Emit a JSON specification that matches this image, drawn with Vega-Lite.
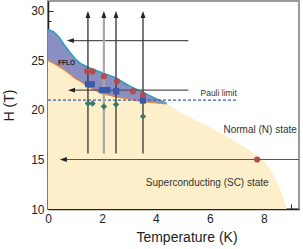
{
  "$schema": "https://vega.github.io/schema/vega-lite/v6.json",
  "width": 251,
  "height": 208,
  "autosize": "none",
  "padding": {"left": 48, "top": 1, "right": 4, "bottom": 40},
  "config": {
    "view": {"stroke": "#9a9a9a", "strokeWidth": 2},
    "font": "Liberation Sans",
    "axis": {"grid": false, "domainColor": "#222", "domainWidth": 1.5, "tickColor": "#222", "tickWidth": 1, "labelColor": "#222", "labelFontSize": 12, "titleColor": "#222", "titleFontSize": 14, "titleFontWeight": "normal", "labelOverlap": false, "labelFlush": false}
  },
  "resolve": {"scale": {"color": "independent", "shape": "independent", "strokeWidth": "independent", "size": "independent"}},
  "datasets": {
    "sc": [
      {"T": 0, "H": 25.0}, {"T": 0.2, "H": 24.72}, {"T": 0.4, "H": 24.4}, {"T": 0.6, "H": 24.05},
      {"T": 0.8, "H": 23.65}, {"T": 1.0, "H": 23.2}, {"T": 1.2, "H": 22.9}, {"T": 1.5, "H": 22.35},
      {"T": 2.0, "H": 21.65}, {"T": 2.5, "H": 21.35}, {"T": 3.0, "H": 21.1}, {"T": 3.5, "H": 20.85},
      {"T": 4.0, "H": 20.7}, {"T": 4.4, "H": 20.62}, {"T": 5.0, "H": 19.6}, {"T": 5.9, "H": 18.4},
      {"T": 6.4, "H": 17.65}, {"T": 6.9, "H": 16.9}, {"T": 7.4, "H": 16.05}, {"T": 7.95, "H": 15.0},
      {"T": 8.25, "H": 14.0}, {"T": 8.5, "H": 12.6}, {"T": 8.7, "H": 11.3}, {"T": 8.85, "H": 10.0}
    ],
    "fflo": [
      {"T": 0, "H": 28.1, "H2": 25.0}, {"T": 0.2, "H": 27.9, "H2": 24.72}, {"T": 0.4, "H": 27.4, "H2": 24.4},
      {"T": 0.6, "H": 26.6, "H2": 24.05}, {"T": 0.8, "H": 25.85, "H2": 23.65}, {"T": 1.0, "H": 25.2, "H2": 23.2},
      {"T": 1.2, "H": 24.7, "H2": 22.9}, {"T": 1.5, "H": 24.3, "H2": 22.35}, {"T": 2.0, "H": 23.75, "H2": 21.65},
      {"T": 2.5, "H": 23.25, "H2": 21.35}, {"T": 3.0, "H": 22.45, "H2": 21.1}, {"T": 3.5, "H": 21.8, "H2": 20.85},
      {"T": 4.0, "H": 21.15, "H2": 20.7}, {"T": 4.4, "H": 20.66, "H2": 20.62}
    ],
    "vert": [
      {"T": 1.48, "H": 15.6, "H2": 29.4, "kind": "dark"},
      {"T": 2.07, "H": 15.6, "H2": 29.4, "kind": "light"},
      {"T": 2.52, "H": 15.6, "H2": 29.4, "kind": "dark"},
      {"T": 3.52, "H": 15.6, "H2": 29.4, "kind": "dark"}
    ],
    "horiz": [
      {"T": 5.2, "T2": 0.9, "H": 27.0},
      {"T": 5.2, "T2": 0.95, "H": 22.0},
      {"T": 9.3, "T2": 0.65, "H": 15.0}
    ],
    "heads": [
      {"T": 1.48, "H": 30.0, "dir": "up"}, {"T": 2.07, "H": 30.0, "dir": "up"},
      {"T": 2.52, "H": 30.0, "dir": "up"}, {"T": 3.52, "H": 30.0, "dir": "up"},
      {"T": 0.7, "H": 27.0, "dir": "left"}, {"T": 0.74, "H": 22.0, "dir": "left"},
      {"T": 0.44, "H": 15.0, "dir": "left"}
    ],
    "pauli": [{"T": 0, "T2": 7.0, "H": 21.0}],
    "pts": [
      {"T": 1.45, "H": 23.9, "series": "red"}, {"T": 1.65, "H": 23.9, "series": "red"},
      {"T": 2.07, "H": 23.4, "series": "red"}, {"T": 2.55, "H": 22.9, "series": "red"},
      {"T": 3.15, "H": 21.9, "series": "red"}, {"T": 3.52, "H": 21.5, "series": "red"},
      {"T": 7.75, "H": 15.0, "series": "red"},
      {"T": 1.48, "H": 22.6, "series": "blue"}, {"T": 1.62, "H": 22.6, "series": "blue"},
      {"T": 2.0, "H": 22.0, "series": "blue"}, {"T": 2.2, "H": 22.0, "series": "blue"},
      {"T": 2.53, "H": 21.9, "series": "blue"}, {"T": 3.52, "H": 20.95, "series": "blue"},
      {"T": 1.48, "H": 20.65, "series": "green"}, {"T": 1.65, "H": 20.65, "series": "green"},
      {"T": 2.07, "H": 20.35, "series": "green"}, {"T": 2.52, "H": 20.55, "series": "green"},
      {"T": 3.52, "H": 19.35, "series": "green"}
    ],
    "labels": [
      {"T": 0.37, "H": 24.7, "text": "FFLO"},
      {"T": 5.65, "H": 21.7, "text": "Pauli limit"},
      {"T": 9.22, "H": 18.0, "text": "Normal (N) state"},
      {"T": 5.9, "H": 12.6, "text": "Superconducting (SC) state"}
    ]
  },
  "encoding": {
    "x": {"field": "T", "type": "quantitative", "scale": {"domain": [0, 9.3], "nice": false, "zero": false},
      "axis": {"title": "Temperature (K)", "format": "d",
        "values": [0,0.25,0.5,0.75,1,1.25,1.5,1.75,2,2.25,2.5,2.75,3,3.25,3.5,3.75,4,4.25,4.5,4.75,5,5.25,5.5,5.75,6,6.25,6.5,6.75,7,7.25,7.5,7.75,8,8.25,8.5,8.75,9,9.25],
        "labelExpr": "datum.value % 2 == 0 ? datum.label : ''",
        "tickSize": {"condition": {"test": "datum.value % 1 == 0", "value": -5}, "value": -2.5},
        "labelPadding": 9,
        "titleX": 138.5, "titleY": 32, "titleBaseline": "alphabetic", "titleAnchor": "middle", "titleAlign": "center"}},
    "y": {"field": "H", "type": "quantitative", "scale": {"domain": [10, 31], "nice": false, "zero": false},
      "axis": {"title": "H (T)", "format": "d",
        "values": [10,11,12,13,14,15,16,17,18,19,20,21,22,23,24,25,26,27,28,29,30],
        "labelExpr": "datum.value % 5 == 0 ? datum.label : ''",
        "tickSize": {"condition": {"test": "datum.value % 5 == 0", "value": -5}, "value": -3},
        "labelPadding": 9,
        "titleX": -35, "titleBaseline": "alphabetic"}}
  },
  "layer": [
    {"data": {"name": "sc"}, "mark": {"type": "area", "color": "#fdefca", "opacity": 1}, "encoding": {"y2": {"datum": 10}}},
    {"data": {"name": "fflo"}, "mark": {"type": "area", "color": "#8b8ec2", "opacity": 1}, "encoding": {"y2": {"field": "H2"}}},
    {"data": {"name": "fflo"}, "mark": {"type": "line", "color": "#2b9dbf", "strokeWidth": 1.5}, "encoding": {}},
    {"data": {"name": "sc"}, "transform": [{"filter": "datum.T <= 4.4"}], "mark": {"type": "line", "color": "#e5843c", "strokeWidth": 1.2}, "encoding": {}},
    {"data": {"name": "pauli"}, "mark": {"type": "rule", "color": "#3a5cb0", "strokeWidth": 1.3, "strokeDash": [3, 2]}, "encoding": {"x2": {"field": "T2"}}},
    {"data": {"name": "horiz"}, "mark": {"type": "rule", "color": "#555555", "strokeWidth": 1.2}, "encoding": {"x2": {"field": "T2"}}},
    {"data": {"name": "vert"}, "mark": {"type": "rule"}, "encoding": {"y2": {"field": "H2"},
      "color": {"field": "kind", "type": "nominal", "scale": {"domain": ["dark", "light"], "range": ["#333333", "#a8a8a8"]}, "legend": null},
      "strokeWidth": {"field": "kind", "type": "nominal", "scale": {"domain": ["dark", "light"], "range": [1.3, 2.2]}, "legend": null}}},
    {"data": {"name": "heads"}, "mark": {"type": "point", "filled": true, "color": "#222222", "opacity": 1, "size": 49},
      "encoding": {"shape": {"field": "dir", "type": "nominal", "scale": {"domain": ["up", "left"], "range": ["M0,0L-0.7,2L0.7,2Z", "M0,0L2,-0.7L2,0.7Z"]}, "legend": null}}},
    {"data": {"name": "pts"}, "mark": {"type": "point", "filled": true, "opacity": 1},
      "encoding": {
        "color": {"field": "series", "type": "nominal", "scale": {"domain": ["red", "blue", "green"], "range": ["#b44a4b", "#3a5ca8", "#3b7868"]}, "legend": null},
        "shape": {"field": "series", "type": "nominal", "scale": {"domain": ["red", "blue", "green"], "range": ["circle", "square", "diamond"]}, "legend": null},
        "size": {"field": "series", "type": "nominal", "scale": {"domain": ["red", "blue", "green"], "range": [38, 40, 60]}, "legend": null}}},
    {"data": {"name": "labels"}, "transform": [{"filter": "datum.text == 'FFLO'"}], "mark": {"type": "text", "align": "left", "baseline": "middle", "fontSize": 6.5, "fontWeight": "bold", "color": "#222"}, "encoding": {"text": {"field": "text"}}},
    {"data": {"name": "labels"}, "transform": [{"filter": "datum.text == 'Pauli limit'"}], "mark": {"type": "text", "align": "left", "baseline": "middle", "fontSize": 8.5, "color": "#333"}, "encoding": {"text": {"field": "text"}}},
    {"data": {"name": "labels"}, "transform": [{"filter": "datum.text == 'Normal (N) state'"}], "mark": {"type": "text", "align": "right", "baseline": "middle", "fontSize": 10, "color": "#333"}, "encoding": {"text": {"field": "text"}}},
    {"data": {"name": "labels"}, "transform": [{"filter": "datum.text == 'Superconducting (SC) state'"}], "mark": {"type": "text", "align": "center", "baseline": "middle", "fontSize": 10, "color": "#333"}, "encoding": {"text": {"field": "text"}}}
  ]
}
